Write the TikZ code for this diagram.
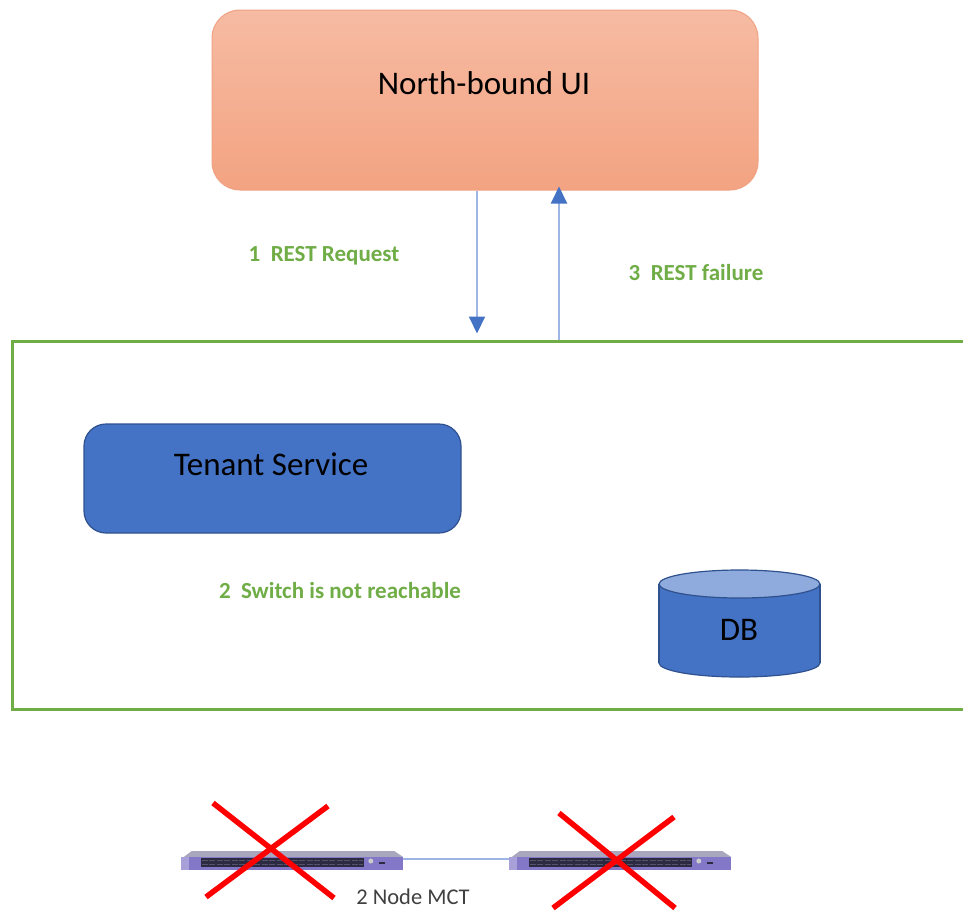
\documentclass[tikz,border=0pt]{standalone}
\usepackage{fontspec}
\setmainfont{Carlito}
\usetikzlibrary{arrows.meta,calc}
\definecolor{nbtop}{HTML}{F6BBA3}
\definecolor{nbbot}{HTML}{F3A381}
\definecolor{nbline}{HTML}{F0A283}
\definecolor{tsblue}{HTML}{4472C4}
\definecolor{tsline}{HTML}{2F528F}
\definecolor{dbtop}{HTML}{8FAADC}
\definecolor{lineblue}{HTML}{9DB6E6}
\definecolor{grn}{HTML}{70AD47}
\definecolor{txtgray}{HTML}{404040}
\definecolor{swfront}{HTML}{8378C8}
\definecolor{swtop}{HTML}{A9A7BE}
\definecolor{swport}{HTML}{2C2A40}
\definecolor{swportl}{HTML}{55526E}
\tikzset{
  nbbox/.style={rectangle, rounded corners=28pt, draw=nbline, line width=1pt, top color=nbtop, bottom color=nbbot, minimum width=546pt, minimum height=180pt, inner sep=0pt},
  tsbox/.style={rectangle, rounded corners=22pt, draw=tsline, line width=1.2pt, fill=tsblue, minimum width=377pt, minimum height=109pt, inner sep=0pt},
  framebox/.style={rectangle, draw=grn, line width=3pt, minimum width=963pt, minimum height=368pt, inner sep=0pt},
  bigtxt/.style={font=\fontsize{33}{40}\selectfont, text=black, inner sep=0pt},
  steptxt/.style={font=\fontsize{23}{28}\selectfont\bfseries, text=grn, inner sep=0pt},
  flow/.style={draw=lineblue, line width=2pt, -{Triangle[width=16pt,length=17pt,color=tsblue]}},
  swnode/.style={rectangle, minimum width=222pt, minimum height=19pt, inner sep=0pt},
  redx/.style={draw=red, line width=5.5pt},
  mctlink/.style={draw=lineblue, line width=1.5pt},
}
\begin{document}
\begin{tikzpicture}[x=1pt,y=-1pt]
\clip (0,0) rectangle (963,911);
\fill[white] (0,0) rectangle (963,911);

% North-bound UI
\node[nbbox] (nb) at (485,100) {};
\node[bigtxt] (nbt) at (484,83) {North-bound UI};

% system frame
\node[framebox] (sys) at (493.5,525) {};

% arrows
\coordinate (ax1) at (477,0);
\coordinate (ax2) at (559,0);
\draw[flow] (nb.south -| ax1) -- ([yshift=6pt]sys.north -| ax1);
\draw[flow] (sys.north -| ax2) -- ([yshift=4pt]nb.south -| ax2);
\node[steptxt] (l1) at (324,256) {1\ \ REST Request};
\node[steptxt] (l3) at (696,273) {3\ \ REST failure};

% Tenant service
\node[tsbox] (ts) at (272.5,478.5) {};
\node[bigtxt] (tst) at (271,464) {Tenant Service};
\node[steptxt] (l2) at (340,591) {2\ \ Switch is not reachable};

% DB cylinder
\filldraw[fill=tsblue, draw=tsline, line width=1.2pt] (739.5,663) ellipse (80.5pt and 14pt);
\fill[tsblue] (659,584) rectangle (820,663);
\draw[tsline, line width=1.2pt] (659,584) -- (659,663) (820,584) -- (820,663);
\filldraw[fill=dbtop, draw=tsline, line width=1.2pt] (739.5,584) ellipse (80.5pt and 14pt);
\node[bigtxt] (db) at (739,630) {DB};

% switches
\node[swnode] (sw1) at (292,860.5) {};
\node[swnode] (sw2) at (620,860.5) {};
\draw[mctlink] ([yshift=1.5pt]sw1.east) -- ([yshift=1.5pt]sw2.west);
\foreach \s in {sw1,sw2}{
  \fill[swtop] ($(\s.west)+(3,-3.5)$) -- ($(\s.west)+(11,-9.5)$) -- ($(\s.east)+(-9,-9.5)$) -- ($(\s.east)+(0,-3.5)$) -- cycle;
  \fill[swfront] ($(\s.west)+(0,-3.5)$) rectangle ($(\s.east)+(0,9.5)$);
  \fill[swfront!70!white] ($(\s.west)+(0,-3.5)$) rectangle ($(\s.west)+(8,9.5)$);
  \fill[swport] ($(\s.west)+(20,-2.5)$) rectangle ($(\s.west)+(183,6.5)$);
  \draw[swportl, line width=1pt, dash pattern=on 6pt off 1.5pt] ($(\s.west)+(21,0)$) -- ($(\s.west)+(182,0)$);
  \draw[swportl, line width=1pt, dash pattern=on 6pt off 1.5pt] ($(\s.west)+(21,4)$) -- ($(\s.west)+(182,4)$);
  \fill[gray!40] ($(\s.west)+(190,0.5)$) circle (2.5pt);
  \fill[swport] ($(\s.west)+(198,1)$) rectangle ($(\s.west)+(204,3.5)$);
}
\node[font=\fontsize{22.5}{27}\selectfont, text=txtgray, inner sep=0pt] (mct) at (413,897) {2 Node MCT};

% red crosses
\draw[redx] (213,803) -- (334,898);
\draw[redx] (328,806) -- (206,897);
\draw[redx] (559,813) -- (675,908);
\draw[redx] (674,817) -- (553,908);
\end{tikzpicture}
\end{document}
